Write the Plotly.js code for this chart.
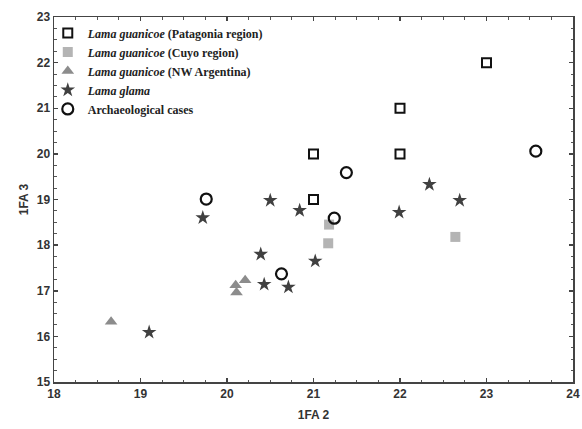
<!DOCTYPE html>
<html>
<head>
<meta charset="utf-8">
<script src="https://cdn.plot.ly/plotly-3.0.1.min.js"></script>
<style>html,body{margin:0;padding:0;background:#fff;}#chart{width:582px;height:429px;}</style>
</head>
<body>
<div id="chart"></div>
<script>
// Lama guanicoe (Patagonia region)
const patX = [21, 21, 22, 22, 23];
const patY = [20, 19, 21, 20, 22];
// Lama guanicoe (Cuyo region)
const cuyoX = [21.18, 21.17, 22.64];
const cuyoY = [18.45, 18.04, 18.18];
// Lama guanicoe (NW Argentina)
const nwaX = [20.21, 20.10, 20.11, 18.66];
const nwaY = [17.23, 17.12, 16.96, 16.32];
// Lama glama
const glamaX = [19.72, 20.50, 20.84, 20.39, 21.02, 20.43, 20.71, 19.10, 22.34, 22.69, 21.99];
const glamaY = [18.60, 18.98, 18.76, 17.80, 17.65, 17.14, 17.08, 16.09, 19.33, 18.98, 18.72];
// Archaeological cases
const archX = [19.76, 21.38, 21.24, 20.63, 23.57];
const archY = [19.01, 19.59, 18.59, 17.37, 20.06];

const names = [
  '<i>Lama guanicoe</i> (Patagonia region)',
  '<i>Lama guanicoe</i> (Cuyo region)',
  '<i>Lama guanicoe</i> (NW Argentina)',
  '<i>Lama glama</i>',
  'Archaeological cases'
];
const xTicks = [18, 19, 20, 21, 22, 23, 24];
const yTicks = [15, 16, 17, 18, 19, 20, 21, 22, 23];

const traces = [
  {x: patX, y: patY, name: names[0], mode: 'markers', type: 'scatter',
   marker: {symbol: 'square-open', size: 9, color: '#111', line: {width: 2, color: '#111'}}},
  {x: cuyoX, y: cuyoY, name: names[1], mode: 'markers', type: 'scatter',
   marker: {symbol: 'square', size: 10, color: '#b4b4b4'}},
  {x: nwaX, y: nwaY, name: names[2], mode: 'markers', type: 'scatter',
   marker: {symbol: 'triangle-up', size: 11, color: '#8c8c8c'}},
  {x: glamaX, y: glamaY, name: names[3], mode: 'markers', type: 'scatter',
   marker: {symbol: 'star', size: 11, color: '#404040'}},
  {x: archX, y: archY, name: names[4], mode: 'markers', type: 'scatter',
   marker: {symbol: 'circle-open', size: 11, color: '#111', line: {width: 2.2, color: '#111'}}}
];

const axisCommon = {
  showgrid: false, zeroline: false, showline: true, linecolor: '#444', linewidth: 1.5,
  mirror: 'allticks', ticks: 'inside', ticklen: 4, tickwidth: 1.5, tickcolor: '#444',
  tickfont: {family: 'Liberation Sans, Arial, sans-serif', size: 12, color: '#333', weight: 'bold'},
  minor: {dtick: 0.25, ticks: 'inside', ticklen: 2.5, tickwidth: 1, tickcolor: '#555'}
};

const layout = {
  width: 582, height: 429,
  margin: {l: 54, r: 9, t: 17, b: 47},
  paper_bgcolor: '#fff', plot_bgcolor: '#fff',
  showlegend: true,
  legend: {x: -0.012, y: 0.996, xanchor: 'left', yanchor: 'top', bgcolor: 'rgba(0,0,0,0)',
    tracegroupgap: 0, traceorder: 'normal', itemwidth: 30,
    font: {family: 'Liberation Serif, Times New Roman, serif', size: 12, color: '#222', weight: 'bold'}},
  xaxis: Object.assign({}, axisCommon, {
    range: [18, 24], tickvals: xTicks, ticktext: xTicks.map(String),
    title: {text: '1FA 2', standoff: 10, font: {family: 'Liberation Sans, Arial, sans-serif', size: 12, color: '#333', weight: 'bold'}}
  }),
  yaxis: Object.assign({}, axisCommon, {
    range: [15, 23], tickvals: yTicks, ticktext: yTicks.map(String),
    title: {text: '1FA 3', standoff: 5, font: {family: 'Liberation Sans, Arial, sans-serif', size: 12, color: '#333', weight: 'bold'}}
  })
};

Plotly.newPlot('chart', traces, layout, {displayModeBar: false, staticPlot: true});
</script>
</body>
</html>
